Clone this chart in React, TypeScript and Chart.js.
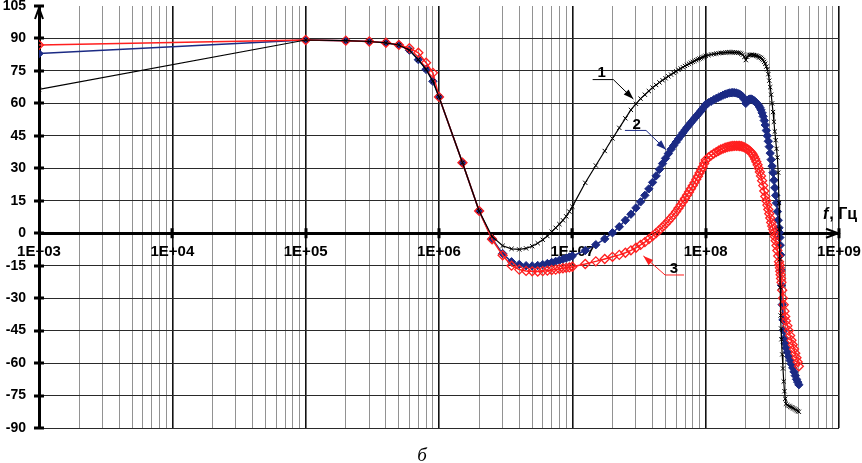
import React, { useEffect, useRef } from 'react';
import { Chart, registerables } from 'chart.js';

Chart.register(...registerables);

// ---------- data ----------
const FREQ_HZ = [
  1e3, 1e5, 2e5, 3e5, 4e5, 5e5, 6e5, 7e5, 8e5, 9e5,
  1e6, 1.5e6, 2e6, 2.5e6, 3e6, 3.5e6, 4e6, 4.5e6, 5e6, 5.5e6, 6e6, 6.5e6, 7e6, 7.5e6, 8e6, 8.5e6, 9e6, 9.5e6, 1e7,
  1.25e7, 1.5e7, 1.75e7, 2e7, 2.25e7, 2.5e7, 2.75e7, 3e7, 3.25e7, 3.5e7, 3.75e7, 4e7, 4.25e7, 4.5e7, 4.75e7, 5e7,
  5.25e7, 5.5e7, 5.75e7, 6e7, 6.25e7, 6.5e7, 6.75e7, 7e7, 7.25e7, 7.5e7, 7.75e7, 8e7, 8.25e7, 8.5e7, 8.75e7, 9e7,
  9.25e7, 9.5e7, 9.75e7,
  1e8, 1.05e8, 1.1e8, 1.15e8, 1.2e8, 1.25e8, 1.3e8, 1.35e8, 1.4e8, 1.45e8,
  1.5e8, 1.55e8, 1.6e8, 1.65e8, 1.7e8, 1.75e8, 1.8e8, 1.85e8, 1.9e8, 1.95e8,
  2e8, 2.05e8, 2.1e8, 2.15e8, 2.2e8, 2.25e8, 2.3e8, 2.35e8, 2.4e8, 2.45e8,
  2.5e8, 2.55e8, 2.6e8, 2.65e8, 2.7e8, 2.75e8, 2.8e8,
  2.85e8, 2.9e8, 2.95e8, 3e8, 3.05e8, 3.1e8, 3.15e8, 3.2e8, 3.25e8, 3.3e8, 3.35e8, 3.4e8, 3.45e8, 3.5e8, 3.55e8,
  3.575e8, 3.6e8, 3.625e8, 3.65e8, 3.675e8, 3.7e8, 3.75e8, 3.8e8, 3.85e8, 3.9e8, 3.95e8, 4e8,
  4.1e8, 4.2e8, 4.3e8, 4.4e8, 4.5e8, 4.6e8, 4.7e8, 4.8e8, 4.9e8, 5e8,
];

const PHASE_CURVE_1 = [
  66.5, 89.3, 89, 88.6, 88, 87, 84.6, 80.2, 75.7, 70.2,
  63, 32.6, 10.3, -1.5, -5.8, -7.2, -7.5, -7, -6, -4.6, -3, -1.3, 0.7, 2.5, 4.2, 6, 7.8, 10, 12.3,
  23.3, 31.3, 38, 43.8, 48.7, 53.1, 57, 59.8, 62.2, 64, 65.7, 67.3, 68.5, 69.7, 70.7, 71.6,
  72.5, 73.3, 74.1, 74.8, 75.5, 76.1, 76.7, 77.3, 77.8, 78.3, 78.8, 79.2, 79.6, 80, 80.4, 80.7,
  81, 81.3, 81.6,
  82, 82.3, 82.6, 82.8, 83, 83.15, 83.3, 83.4, 83.5, 83.55,
  83.6, 83.6, 83.6, 83.55, 83.5, 83.4, 83.3, 83, 82.5, 81.5,
  80, 81.5, 82.3, 82.4, 82.5, 82.4, 82.3, 82.2, 82, 81.8,
  81.5, 81.3, 81, 80.5, 80, 79.2, 78.3,
  77, 75.8, 73.5, 70.5, 67.5, 64, 60, 56, 51.5, 47, 43, 39, 35, 28, 14,
  2, -12, -25, -38, -44, -49, -56, -62.5, -68.5, -73, -76.5, -78.8,
  -79.4, -79.8, -80.1, -80.4, -80.7, -81, -81.4, -81.8, -82.2, -82.5,
];

const PHASE_CURVE_2 = [
  83, 89.3, 89, 88.6, 88, 87, 84.6, 80.2, 75.7, 70.2,
  63, 32.6, 10.3, -2.5, -9.4, -13.2, -14.4, -15, -15.1, -14.9, -14.5, -14, -13.5, -13, -12.5, -12, -11.5, -11, -10.5,
  -8, -5.3, -2.6, 0.2, 3, 6, 8.8, 11.7, 14.5, 17.5, 20.5, 23.5, 26.5, 29.5, 32.2, 34.6,
  36.8, 38.8, 40.5, 42.1, 43.6, 45, 46.4, 47.7, 48.9, 50, 51.1, 52.1, 53.1, 54, 54.9, 55.8,
  56.7, 57.6, 58.5,
  59.5, 60.3, 61, 61.7, 62.3, 62.8, 63.3, 63.8, 64.2, 64.5,
  64.8, 64.9, 65, 64.9, 64.8, 64.5, 64.2, 63.7, 63, 61.8,
  60, 61.2, 61.8, 62, 62, 61.7, 61.3, 60.8, 60.2, 59.6,
  59, 58.1, 57, 55.6, 54, 52.1, 50,
  47.5, 45, 42.5, 40, 37, 34, 31, 28, 24.5, 21, 17.5, 14, 10, 6, 2.5,
  0.3, -2, -5.5, -10, -17, -24, -33, -40, -45, -48.5, -51, -53,
  -55, -57, -58.8, -60.5, -62.2, -64, -65.8, -67.5, -68.8, -70,
];

const PHASE_CURVE_3 = [
  87, 89.3, 89, 88.6, 88, 87, 85.5, 83.4, 78.8, 74.1,
  63, 32.6, 10.3, -2.8, -10.2, -15, -16.8, -17.4, -17.6, -17.7, -17.5, -17.3, -17, -16.8, -16.5, -16.2, -16, -15.8, -15.5,
  -14.2, -13, -11.9, -10.9, -10, -9, -7.9, -6.7, -5.4, -4.1, -2.7, -1.3, 0.1, 1.5, 2.9, 4.3,
  5.7, 7.1, 8.5, 10, 11.6, 13.1, 14.6, 16.1, 17.6, 19.1, 20.6, 22, 23.4, 24.9, 26.3, 27.8,
  29.2, 30.6, 32.2,
  33.8, 35, 36, 36.8, 37.5, 38.1, 38.7, 39.1, 39.5, 39.8,
  40, 40.2, 40.3, 40.4, 40.4, 40.4, 40.3, 40.2, 40, 39.7,
  39.3, 38.9, 38.5, 37.9, 37.3, 36.5, 35.5, 34.3, 33, 31.6,
  30, 28.3, 26.5, 24.3, 22, 19.5, 17,
  15, 13, 11, 9, 7, 5, 3.3, 1.8, 0.3, -1.5, -3.5, -5.7, -8, -10.5, -13.2,
  -14.6, -16, -17.6, -19.2, -20.9, -22.7, -26.3, -30, -33, -36, -38.5, -40.5,
  -42.8, -45, -47.3, -49.5, -51.5, -53.5, -55.5, -57.5, -59.5, -61.5,
];

const Y_TICKS = [-90, -75, -60, -45, -30, -15, 0, 15, 30, 45, 60, 75, 90, 105];
const X_DECADES = [1e3, 1e4, 1e5, 1e6, 1e7, 1e8, 1e9];
const X_TICK_LABELS = ['1E+03', '1E+04', '1E+05', '1E+06', '1E+07', '1E+08', '1E+09'];
const CURVE_NAMES = ['1', '2', '3'];
const AXIS_VAR = 'f';
const AXIS_UNIT = ', Гц';
const CAPTION = 'б';

// curve label anchors in data units [frequency, degrees]
const NAME_POS = [[1.66e7, 74], [3.04e7, 50.2], [5.79e7, -16.5]];
const LEADER_1 = [[1.42e7, 71], [2.03e7, 71], [2.87e7, 62]];
const LEADER_2 = [[2.48e7, 47.5], [3.57e7, 47.5], [5.04e7, 38.6]];
const LEADER_3 = [[6.88e7, -19.3], [4.96e7, -19.3], [3.41e7, -10.5]];

// ---------- styles ----------
const C_BLACK = '#000000';
const C_NAVY = '#1b2a84';
const C_RED = '#ff1f1f';
const SANS = '"Liberation Sans", Arial, sans-serif';

const GRID_VALUES: number[] = [];
X_DECADES.forEach((d, i) => {
  if (i < X_DECADES.length - 1) {
    for (let k = 1; k <= 9; k++) GRID_VALUES.push(k * d);
  } else {
    GRID_VALUES.push(d);
  }
});

const isDecade = (v: number) => X_DECADES.includes(v);

function arrowHead(ctx: CanvasRenderingContext2D, px: number, py: number, tx: number, ty: number, color: string) {
  const a = Math.atan2(ty - py, tx - px);
  const L = 10;
  const W = 3.5;
  const bx = tx - L * Math.cos(a);
  const by = ty - L * Math.sin(a);
  ctx.beginPath();
  ctx.moveTo(tx, ty);
  ctx.lineTo(bx + W * Math.sin(a), by - W * Math.cos(a));
  ctx.lineTo(bx - W * Math.sin(a), by + W * Math.cos(a));
  ctx.closePath();
  ctx.fillStyle = color;
  ctx.fill();
}

const decorPlugin = {
  id: 'decor',
  beforeDatasetsDraw(chart: any) {
    const { ctx, chartArea, scales } = chart;
    const x = scales.x;
    const y = scales.y;
    const y0 = y.getPixelForValue(0);
    const left = chartArea.left;
    ctx.save();
    ctx.strokeStyle = '#000';
    ctx.lineWidth = 3;
    for (const v of Y_TICKS) {
      const py = Math.round(y.getPixelForValue(v));
      ctx.beginPath();
      ctx.moveTo(left - 5, py);
      ctx.lineTo(left + 5, py);
      ctx.stroke();
    }
    for (const v of X_DECADES.slice(1)) {
      const px = Math.round(x.getPixelForValue(v));
      ctx.beginPath();
      ctx.moveTo(px, y0 - 5);
      ctx.lineTo(px, y0 + 5);
      ctx.stroke();
    }
    ctx.lineWidth = 2;
    ctx.beginPath();
    ctx.moveTo(left - 4, chartArea.top + 13);
    ctx.lineTo(left, chartArea.top + 2);
    ctx.lineTo(left + 4, chartArea.top + 13);
    ctx.stroke();
    const xr = x.getPixelForValue(1e9) - 1;
    ctx.beginPath();
    ctx.moveTo(xr - 12, y0 - 4.5);
    ctx.lineTo(xr, y0);
    ctx.lineTo(xr - 12, y0 + 4.5);
    ctx.stroke();
    ctx.restore();
  },
  afterDatasetsDraw(chart: any) {
    const { ctx, scales } = chart;
    const x = scales.x;
    const y = scales.y;
    const leaders = [LEADER_1, LEADER_2, LEADER_3];
    const colors = [C_BLACK, C_NAVY, C_RED];
    ctx.save();
    leaders.forEach((pts, i) => {
      const p = pts.map(([f, v]) => [x.getPixelForValue(f), y.getPixelForValue(v)]);
      ctx.strokeStyle = colors[i];
      ctx.lineWidth = 1;
      ctx.beginPath();
      ctx.moveTo(p[0][0], p[0][1]);
      for (let k = 1; k < p.length; k++) ctx.lineTo(p[k][0], p[k][1]);
      ctx.stroke();
      const n = p.length;
      arrowHead(ctx, p[n - 2][0], p[n - 2][1], p[n - 1][0], p[n - 1][1], colors[i]);
      const [tf, tv] = NAME_POS[i];
      ctx.fillStyle = '#000';
      ctx.font = `bold 15px ${SANS}`;
      ctx.textAlign = 'center';
      ctx.textBaseline = 'middle';
      ctx.fillText(CURVE_NAMES[i], x.getPixelForValue(tf), y.getPixelForValue(tv));
    });
    ctx.restore();
  },
  afterDraw(chart: any) {
    const { ctx, chartArea, scales } = chart;
    const y0 = scales.y.getPixelForValue(0);
    ctx.save();
    ctx.fillStyle = '#000';
    ctx.textAlign = 'left';
    ctx.textBaseline = 'alphabetic';
    const sx = chartArea.right - 16;
    const sy = y0 - 14;
    ctx.font = `italic bold 16px ${SANS}`;
    ctx.fillText(AXIS_VAR, sx, sy);
    const w = ctx.measureText(AXIS_VAR).width;
    ctx.font = `bold 16px ${SANS}`;
    ctx.fillText(AXIS_UNIT, sx + w + 1, sy);
    ctx.font = 'italic 19px "Liberation Serif", "Times New Roman", serif';
    ctx.textAlign = 'center';
    ctx.fillText(CAPTION, 422, 461);
    ctx.restore();
  },
};

export default function App() {
  const canvasRef = useRef<HTMLCanvasElement | null>(null);

  useEffect(() => {
    const canvas = canvasRef.current;
    if (!canvas) return;
    const toPts = (arr: number[]) => FREQ_HZ.map((f, i) => ({ x: f, y: arr[i] }));

    const chart = new Chart(canvas, {
      type: 'line',
      data: {
        datasets: [
          {
            label: CURVE_NAMES[0],
            data: toPts(PHASE_CURVE_1),
            borderColor: C_BLACK,
            borderWidth: 1.2,
            pointStyle: 'crossRot',
            pointRadius: 3,
            pointBorderWidth: 1,
            pointBorderColor: C_BLACK,
            pointBackgroundColor: C_BLACK,
            tension: 0,
          },
          {
            label: CURVE_NAMES[2],
            data: toPts(PHASE_CURVE_3),
            borderColor: C_RED,
            borderWidth: 1.5,
            pointStyle: 'rectRot',
            pointRadius: 4.5,
            pointBorderWidth: 1.3,
            pointBorderColor: C_RED,
            pointBackgroundColor: 'rgba(255,255,255,0)',
            tension: 0,
          },
          {
            label: CURVE_NAMES[1],
            data: toPts(PHASE_CURVE_2),
            borderColor: C_NAVY,
            borderWidth: 1.5,
            pointStyle: 'rectRot',
            pointRadius: 4.2,
            pointBorderWidth: 1,
            pointBorderColor: C_NAVY,
            pointBackgroundColor: C_NAVY,
            tension: 0,
          },
        ],
      },
      options: {
        animation: false,
        responsive: false,
        events: [],
        layout: { autoPadding: false, padding: { left: 0, top: 6, right: 23, bottom: 35 } },
        plugins: {
          legend: { display: false },
          tooltip: { enabled: false },
          title: { display: false },
        },
        scales: {
          x: {
            type: 'logarithmic',
            position: { y: 0 },
            min: 1e3,
            max: 1e9,
            afterBuildTicks: (s: any) => {
              s.ticks = GRID_VALUES.map((v) => ({ value: v }));
            },
            afterFit: (s: any) => {
              s.paddingLeft = 0;
              s.paddingRight = 0;
            },
            grid: {
              drawTicks: false,
              color: (c: any) => (c.tick && isDecade(c.tick.value) ? '#111111' : '#929292'),
              lineWidth: (c: any) => (c.tick && isDecade(c.tick.value) ? 1.6 : 1),
            },
            border: { display: true, color: '#000', width: 3 },
            ticks: {
              autoSkip: false,
              maxRotation: 0,
              minRotation: 0,
              padding: 10,
              color: '#000',
              font: { family: SANS, size: 15, weight: 'bold' },
              callback: (v: any) => {
                const i = X_DECADES.indexOf(Number(v));
                return i >= 0 ? X_TICK_LABELS[i] : '';
              },
            },
          },
          y: {
            type: 'linear',
            position: 'left',
            min: -90,
            max: 105,
            afterBuildTicks: (s: any) => {
              s.ticks = Y_TICKS.map((v) => ({ value: v }));
            },
            afterFit: (s: any) => {
              s.width = 39;
              s.paddingTop = 0;
              s.paddingBottom = 0;
            },
            grid: {
              drawTicks: false,
              color: (c: any) => (c.tick && c.tick.value === 105 ? 'rgba(0,0,0,0)' : '#2a2a2a'),
              lineWidth: 1,
            },
            border: { display: true, color: '#000', width: 3 },
            ticks: {
              padding: 13,
              color: '#000',
              font: { family: SANS, size: 14, weight: 'bold' },
            },
          },
        },
      },
      plugins: [decorPlugin],
    } as any);

    return () => chart.destroy();
  }, []);

  return (
    <div style={{ position: 'absolute', left: 0, top: 0, width: 862, height: 463, background: '#fff' }}>
      <canvas ref={canvasRef} width={862} height={463} style={{ display: 'block', width: 862, height: 463 }} />
    </div>
  );
}
